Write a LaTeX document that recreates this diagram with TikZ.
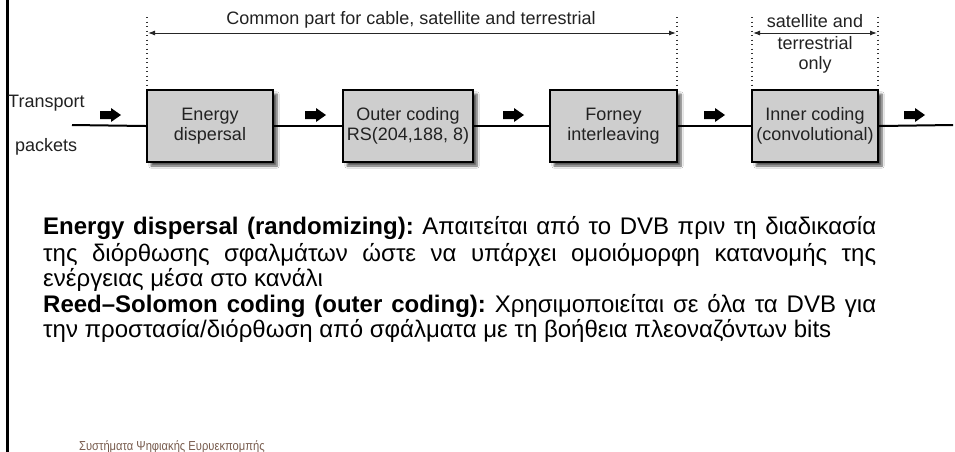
\documentclass[tikz,border=0pt]{standalone}
\usepackage{fontspec}
\setmainfont{Liberation Sans}
\usetikzlibrary{shadows.blur,arrows.meta}
\definecolor{boxgray}{RGB}{206,206,206}
\definecolor{txtdark}{RGB}{34,34,34}
\definecolor{footbrown}{RGB}{120,92,78}
\newcommand\blkarrow[2]{%
  \fill[black] ({#1-10},{#2-4}) -- ({#1+1},{#2-4}) -- ({#1+1},{#2-7}) -- ({#1+11},{#2}) -- ({#1+1},{#2+7}) -- ({#1+1},{#2+4}) -- ({#1-10},{#2+4}) -- cycle;}
\begin{document}
\begin{tikzpicture}[x=1pt,y=-1pt,
  blk/.style={draw=black, line width=2.4pt, fill=boxgray, minimum height=72pt,
    inner sep=0pt, align=center, text=txtdark, font=\fontsize{18}{20}\selectfont,
    blur shadow={shadow xshift=4pt, shadow yshift=-4pt, shadow blur steps=6, shadow opacity=65}},
  lbl/.style={text=txtdark, font=\fontsize{18}{21.5}\selectfont, inner sep=0pt, align=center},
  flow/.style={line width=2pt, black},
  guide/.style={line width=1.3pt, dash pattern=on 1.3pt off 3.2pt, black!80},
  span/.style={line width=1pt, black!85, {Latex[length=7pt,width=5pt]}-{Latex[length=7pt,width=5pt]}}
]
\fill[white] (0,0) rectangle (955,451);
\useasboundingbox (0,0) rectangle (955,451);
% left bar
\draw[line width=3pt] (7.5,-2) -- (7.5,453);

% boxes
\node[blk, minimum width=126pt] (ed) at (210,126) {Energy\\dispersal};
\node[blk, minimum width=130pt] (oc) at (408,126) {Outer coding\\RS(204,188, 8)};
\node[blk, minimum width=127pt] (fi) at (613.5,126) {Forney\\interleaving};
\node[blk, minimum width=126pt] (ic) at (815,126) {Inner coding\\(convolutional)};

% flow line
\coordinate (in) at (72,125);
\coordinate (out) at (953,125);
\draw[flow] (in) -- (ed.west);
\draw[flow] (ed.east) -- (oc.west);
\draw[flow] (oc.east) -- (fi.west);
\draw[flow] (fi.east) -- (ic.west);
\draw[flow] (ic.east) -- (out);

% block arrows
\blkarrow{110}{115}
\blkarrow{315}{115}
\blkarrow{513}{115}
\blkarrow{714}{115}
\blkarrow{914}{115}

% input labels
\node[lbl, anchor=west] (tr) at (8,103) {Transport};
\node[lbl, anchor=west] (pk) at (15,147) {packets};

% dotted guides
\coordinate (g1t) at (147,17); \coordinate (g1b) at (147,88);
\coordinate (g2t) at (677,17); \coordinate (g2b) at (677,88);
\coordinate (g3t) at (752,17); \coordinate (g3b) at (752,88);
\coordinate (g4t) at (878,17); \coordinate (g4b) at (878,88);
\draw[guide] (g1t) -- (g1b);
\draw[guide] (g2t) -- (g2b);
\draw[guide] (g3t) -- (g3b);
\draw[guide] (g4t) -- (g4b);

% spans
\coordinate (s1a) at (148,33); \coordinate (s1b) at (676,33);
\coordinate (s2a) at (753,33); \coordinate (s2b) at (877,33);
\draw[span] (s1a) -- (s1b);
\draw[span] (s2a) -- (s2b);
\node[lbl] (common) at (411,20) {Common part for cable, satellite and terrestrial};
\node[lbl] (sat) at (815,21) {satellite and};
\node[lbl] (ter) at (815,43) {terrestrial};
\node[lbl] (only) at (815,65) {only};

% paragraph
\node[anchor=north west, text width=833pt, inner sep=0pt, align=justify,
  font=\fontsize{24}{25.5}\selectfont\frenchspacing] (para) at (43,216)
  {\strut\textbf{Energy dispersal (randomizing):} Απαιτείται από το DVB πριν τη διαδικασία\linebreak
   της διόρθωσης σφαλμάτων ώστε να υπάρχει ομοιόμορφη κατανομής της\linebreak
   ενέργειας μέσα στο κανάλι\par
   \textbf{Reed–Solomon coding (outer coding):} Χρησιμοποιείται σε όλα τα DVB για\linebreak
   την προστασία/διόρθωση από σφάλματα με τη βοήθεια πλεοναζόντων bits};

% footer
\node[anchor=base west, inner sep=0pt, text=footbrown, xscale=0.86, transform shape,
  font=\fontsize{13}{13}\selectfont] (foot) at (79,450.5) {Συστήματα Ψηφιακής Ευρυεκπομπής};
\end{tikzpicture}
\end{document}
